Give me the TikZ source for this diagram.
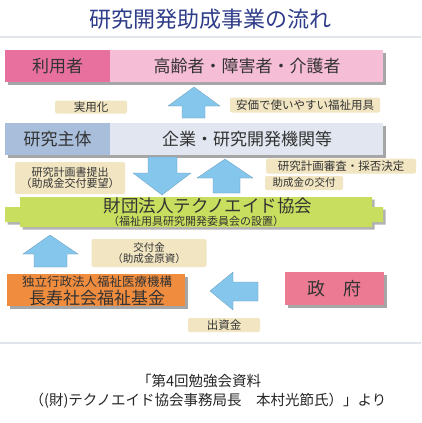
\documentclass[tikz,border=0pt]{standalone}
\usepackage{fontspec}
\newfontfamily\jp{Noto Sans CJK JP}
\usetikzlibrary{shadows}
\definecolor{titleblue}{HTML}{2E3C8A}
\definecolor{pinkdark}{HTML}{E8709E}
\definecolor{pinklight}{HTML}{F6BDD6}
\definecolor{graydark}{HTML}{A9BEDB}
\definecolor{graylight}{HTML}{E1E6F0}
\definecolor{greenbar}{HTML}{C8DE5E}
\definecolor{orangebox}{HTML}{F08C3E}
\definecolor{govpink}{HTML}{EC7A92}
\definecolor{tan}{HTML}{F1E5C2}
\definecolor{arrowblue}{HTML}{84C6EC}
\definecolor{textdark}{HTML}{333333}
\definecolor{rulegray}{HTML}{E2E4EC}
\tikzset{
  fs/.style={font=\jp\fontsize{#1}{#1}\selectfont},
  shadowed/.style={drop shadow={shadow xshift=2.5pt,shadow yshift=-2.5pt,fill=black,opacity=0.35}},
  barbox/.style={draw=none,inner sep=0pt,anchor=north west,shadowed},
  bartext/.style={fs=17,text=textdark,inner sep=0pt},
  tanlabel/.style={fill=tan,draw=none,inner sep=0pt,rounded corners=2pt,text=textdark,align=center},
  blockarrow/.style={fill=arrowblue,draw=arrowblue!80!black,line width=0.3pt},
  rulestyle/.style={draw=rulegray,line width=1.2pt}
}
\begin{document}
\begin{tikzpicture}[x=1pt,y=-1pt]
\useasboundingbox[fill=white] (0,0) rectangle (421,423);

% title
\node[fs=22,text=titleblue,inner sep=0pt] (title) at (210,19) {研究開発助成事業の流れ};
\coordinate (r1a) at (0,37);
\coordinate (r1b) at (421,37);
\draw[rulestyle] (r1a) -- (r1b);

% user bar
\node[barbox,fill=pinklight,minimum width=378pt,minimum height=32pt] (userbar) at (5,50) {};
\node[anchor=north west,fill=pinkdark,inner sep=0pt,minimum width=105pt,minimum height=32pt] (userleft) at (5,50) {};
\node[bartext] (usertitle) at (57.5,66) {利用者};
\node[bartext] (users) at (247,66) {高齢者・障害者・介護者};

% labels between user and research bars
\node[tanlabel,fs=11.5,minimum width=72pt,minimum height=13pt] (jitsuyo) at (91,107) {実用化};
\node[tanlabel,fs=11.5,minimum width=150pt,minimum height=15pt] (anka) at (305,105) {安価で使いやすい福祉用具};

% up arrow research -> users
\fill[blockarrow] (182,118) -- (182,106) -- (168,106) -- (194,87) -- (220,106) -- (205,106) -- (205,118) -- cycle;

% research bar
\node[barbox,fill=graylight,minimum width=378pt,minimum height=32pt] (resbar) at (5,123) {};
\node[anchor=north west,fill=graydark,inner sep=0pt,minimum width=105pt,minimum height=32pt] (resleft) at (5,123) {};
\node[bartext] (restitle) at (57.5,139.5) {研究主体};
\node[bartext] (resorgs) at (247,139.5) {企業・研究開発機関等};

% labels between research and foundation
\node[tanlabel,fs=11,minimum width=110pt,minimum height=32pt] (teishutsu) at (70,178) {研究計画書提出\\（助成金交付要望）};
\node[tanlabel,fs=11.5,minimum width=150pt,minimum height=15pt] (shinsa) at (341,166) {研究計画審査・採否決定};
\node[tanlabel,fs=10.5,minimum width=78pt,minimum height=14pt] (kofu) at (304,183) {助成金の交付};

% down arrow (research -> foundation)
\fill[blockarrow] (148,157) -- (177,157) -- (177,173) -- (191,173) -- (162,195) -- (133,173) -- (148,173) -- cycle;
% up arrow (foundation -> research)
\fill[blockarrow] (213,193) -- (213,178) -- (197,178) -- (225,159) -- (253,178) -- (240,178) -- (240,193) -- cycle;

% green foundation banner
\fill[black,opacity=0.3,shift={(2.5,2.5)}] (20,197) -- (372,197) -- (372,207) -- (383,207) -- (383,222) -- (372,222) -- (372,227) -- (20,227) -- (20,222) -- (5,222) -- (5,207) -- (20,207) -- cycle;
\fill[greenbar] (20,197) -- (372,197) -- (372,207) -- (383,207) -- (383,222) -- (372,222) -- (372,227) -- (20,227) -- (20,222) -- (5,222) -- (5,207) -- (20,207) -- cycle;
\node[fs=17.5,text=textdark,inner sep=0pt] (found) at (208,206) {財団法人テクノエイド協会};
\node[fs=11,text=textdark,inner sep=0pt] (foundsub) at (196,221) {（福祉用具研究開発委員会の設置）};

% up arrow fund -> foundation
\fill[blockarrow] (34,267) -- (34,254) -- (23,254) -- (50,235) -- (78,254) -- (67,254) -- (67,267) -- cycle;
\node[tanlabel,fs=10.5,minimum width=115pt,minimum height=28pt] (kofukin) at (149,253) {交付金\\（助成金原資）};

% orange fund box
\node[barbox,fill=orangebox,minimum width=178pt,minimum height=32pt] (fund) at (7,274) {};
\node[fs=12.5,text=textdark,inner sep=0pt] (fund1) at (97,282) {独立行政法人福祉医療機構};
\node[fs=17,text=textdark,inner sep=0pt] (fund2) at (97,298.5) {長寿社会福祉基金};

% left arrow government -> fund
\fill[blockarrow] (258,282) -- (233,282) -- (233,272) -- (210,291) -- (233,310) -- (233,301) -- (258,301) -- cycle;

% government box
\node[barbox,fill=govpink,minimum width=99pt,minimum height=33pt] (gov) at (285,272) {};
\node[bartext,fs=18] (govtext) at (334,289) {政\hspace{1em}府};

\node[tanlabel,fs=11.5,minimum width=72pt,minimum height=14pt] (shusshi) at (224,325) {出資金};

% bottom rule
\coordinate (r2a) at (0,343);
\coordinate (r2b) at (421,343);
\draw[rulestyle] (r2a) -- (r2b);

% caption
\node[fs=14.5,text=black!85,inner sep=0pt,anchor=west] (cap1) at (137,381) {「第4回勉強会資料};
\node[fs=14.5,text=black!85,inner sep=0pt] (cap2) at (208,401) {（(財)テクノエイド協会事務局長\hspace{1em}本村光節氏）」より};
\end{tikzpicture}
\end{document}
